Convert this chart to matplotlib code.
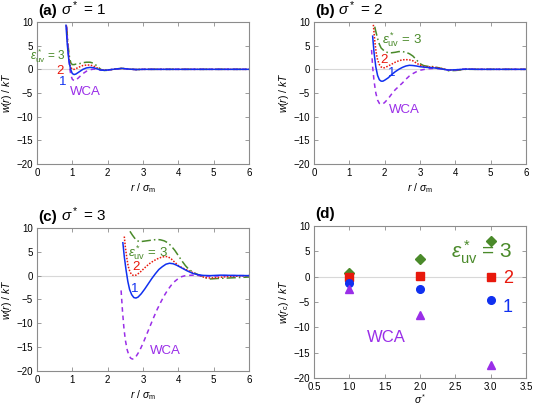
import matplotlib
matplotlib.use("Agg")
import matplotlib.pyplot as plt

plt.rcParams['font.family'] = ['Liberation Sans', 'DejaVu Sans']
plt.rcParams['mathtext.fontset'] = 'custom'
plt.rcParams['mathtext.rm'] = 'Liberation Sans'
plt.rcParams['mathtext.it'] = 'Liberation Sans:italic'
plt.rcParams['mathtext.bf'] = 'Liberation Sans:bold'
plt.rcParams['axes.unicode_minus'] = True

GREEN = '#4a8a2a'
RED = '#e8180c'
BLUE = '#1030f0'
PURPLE = '#9a2ee8'

# ---- panel (a): sigma* = 1 ----
a_wca_r = [0.84, 0.88, 0.92, 0.96, 1.0, 1.05, 1.1, 1.2, 1.3, 1.4, 1.5, 1.6, 1.7, 1.8, 1.9, 2.0, 2.2, 2.4, 2.6, 2.8, 3.0, 6.0]
a_wca_w = [9.0, 4.0, 0.5, -1.3, -2.1, -2.4, -2.3, -1.6, -0.9, -0.4, -0.1, 0.05, 0.0, -0.15, -0.2, -0.15, 0.05, 0.15, 0.05, -0.05, 0.0, 0.0]
a_e1_r = [0.82, 0.86, 0.9, 0.95, 1.0, 1.05, 1.1, 1.2, 1.3, 1.4, 1.5, 1.6, 1.7, 1.8, 1.9, 2.0, 2.2, 2.4, 2.6, 2.8, 3.0, 6.0]
a_e1_w = [9.3, 5.0, 2.0, 0.0, -0.9, -1.1, -1.0, -0.5, 0.0, 0.3, 0.4, 0.35, 0.1, -0.15, -0.2, -0.15, 0.05, 0.2, 0.05, -0.05, 0.0, 0.0]
a_e2_r = [0.83, 0.87, 0.91, 0.95, 1.0, 1.05, 1.1, 1.2, 1.3, 1.4, 1.5, 1.6, 1.7, 1.8, 1.9, 2.0, 2.2, 2.4, 2.6, 2.8, 3.0, 6.0]
a_e2_w = [9.3, 5.0, 2.0, 0.5, 0.0, 0.0, 0.15, 0.5, 0.8, 0.9, 0.9, 0.7, 0.3, -0.1, -0.2, -0.15, 0.05, 0.2, 0.05, -0.05, 0.0, 0.0]
a_e3_r = [0.84, 0.88, 0.92, 0.96, 1.0, 1.05, 1.1, 1.2, 1.3, 1.4, 1.5, 1.6, 1.7, 1.8, 1.9, 2.0, 2.2, 2.4, 2.6, 2.8, 3.0, 6.0]
a_e3_w = [9.0, 5.0, 2.5, 1.3, 1.0, 1.0, 1.1, 1.2, 1.4, 1.5, 1.5, 1.3, 0.7, 0.0, -0.25, -0.2, 0.05, 0.2, 0.1, -0.05, 0.0, 0.0]

# ---- panel (b): sigma* = 2 ----
b_wca_r = [1.63, 1.66, 1.7, 1.75, 1.8, 1.85, 1.9, 1.95, 2.0, 2.1, 2.2, 2.3, 2.4, 2.5, 2.6, 2.7, 2.8, 2.9, 3.0, 3.2, 3.4, 3.6, 3.8, 4.0, 4.3, 4.6, 6.0]
b_wca_w = [4.1, 0.5, -2.5, -5.0, -6.5, -7.2, -7.4, -7.3, -7.0, -6.2, -5.2, -4.3, -3.6, -2.9, -2.1, -1.4, -0.9, -0.5, -0.2, 0.1, 0.2, 0.1, -0.15, -0.1, 0.05, 0.0, 0.0]
b_e1_r = [1.66, 1.7, 1.75, 1.8, 1.85, 1.9, 1.95, 2.0, 2.1, 2.2, 2.3, 2.4, 2.5, 2.6, 2.7, 2.8, 2.9, 3.0, 3.2, 3.4, 3.6, 3.8, 4.0, 4.3, 4.6, 6.0]
b_e1_w = [7.0, 3.5, 0.5, -1.3, -2.2, -2.5, -2.5, -2.3, -1.8, -1.1, -0.5, 0.0, 0.4, 0.7, 0.85, 0.8, 0.7, 0.55, 0.4, 0.3, 0.1, -0.15, -0.1, 0.05, 0.0, 0.0]
b_e2_r = [1.68, 1.72, 1.76, 1.8, 1.85, 1.9, 1.95, 2.0, 2.1, 2.2, 2.3, 2.4, 2.5, 2.6, 2.7, 2.8, 2.9, 3.0, 3.1, 3.2, 3.4, 3.6, 3.8, 4.0, 4.3, 4.6, 6.0]
b_e2_w = [9.4, 6.0, 3.5, 2.0, 1.0, 0.5, 0.3, 0.35, 0.7, 1.1, 1.5, 1.8, 2.0, 2.05, 2.0, 1.8, 1.3, 0.9, 0.6, 0.55, 0.45, 0.2, -0.15, -0.15, 0.05, 0.0, 0.0]
b_e3_r = [1.72, 1.74, 1.8, 1.85, 1.9, 2.0, 2.1, 2.2, 2.3, 2.4, 2.5, 2.6, 2.7, 2.8, 2.9, 3.0, 3.1, 3.2, 3.4, 3.6, 3.8, 4.0, 4.3, 4.6, 5.0, 6.0]
b_e3_w = [9.0, 8.3, 6.5, 5.3, 4.5, 3.8, 3.5, 3.5, 3.6, 3.75, 3.75, 3.6, 3.3, 2.8, 2.0, 1.2, 0.8, 0.65, 0.55, 0.2, -0.3, -0.25, 0.0, 0.0, 0.0, 0.0]

# ---- panel (c): sigma* = 3 ----
c_wca_r = [2.38, 2.42, 2.46, 2.5, 2.55, 2.6, 2.65, 2.7, 2.75, 2.8, 2.9, 3.0, 3.1, 3.2, 3.3, 3.4, 3.5, 3.6, 3.7, 3.8, 3.9, 4.0, 4.1, 4.2, 4.4, 4.6, 4.8, 5.0, 5.3, 6.0]
c_wca_w = [-3.1, -7.5, -11.0, -13.5, -15.5, -16.7, -17.3, -17.5, -17.4, -17.0, -15.8, -14.2, -12.4, -10.6, -8.8, -7.1, -5.6, -4.2, -3.0, -2.0, -1.2, -0.6, -0.2, 0.0, 0.1, 0.0, -0.1, -0.1, 0.0, 0.0]
c_e1_r = [2.43, 2.47, 2.52, 2.57, 2.62, 2.68, 2.74, 2.8, 2.86, 2.95, 3.05, 3.15, 3.25, 3.35, 3.45, 3.55, 3.65, 3.75, 3.85, 3.95, 4.1, 4.25, 4.4, 4.55, 4.7, 4.9, 5.2, 5.5, 6.0]
c_e1_w = [6.9, 4.0, 1.2, -1.2, -2.9, -4.0, -4.6, -4.7, -4.5, -3.8, -2.8, -1.7, -0.6, 0.4, 1.3, 1.9, 2.4, 2.6, 2.5, 2.2, 1.6, 1.0, 0.5, 0.2, 0.05, 0.0, 0.1, 0.05, 0.0]
c_e2_r = [2.47, 2.5, 2.54, 2.58, 2.63, 2.68, 2.74, 2.8, 2.9, 3.0, 3.1, 3.2, 3.3, 3.4, 3.5, 3.6, 3.7, 3.8, 3.9, 4.0, 4.15, 4.3, 4.45, 4.6, 4.75, 4.9, 5.1, 5.4, 6.0]
c_e2_w = [8.2, 6.0, 3.8, 2.0, 0.8, 0.2, 0.0, 0.1, 0.6, 1.3, 2.0, 2.6, 3.1, 3.5, 3.8, 4.0, 4.0, 3.5, 2.8, 2.1, 1.5, 1.0, 0.5, 0.0, -0.4, -0.5, -0.4, -0.2, 0.0]
c_e3_r = [2.63, 2.7, 2.8, 2.9, 3.0, 3.1, 3.2, 3.3, 3.4, 3.5, 3.6, 3.7, 3.8, 3.9, 4.0, 4.1, 4.2, 4.3, 4.4, 4.5, 4.6, 4.75, 4.9, 5.1, 5.4, 5.7, 6.0]
c_e3_w = [9.3, 8.5, 7.5, 7.1, 7.2, 7.3, 7.4, 7.5, 7.6, 7.5, 7.3, 6.9, 6.2, 5.3, 4.2, 3.1, 2.1, 1.3, 0.8, 0.4, 0.1, -0.4, -0.7, -0.6, -0.5, -0.4, -0.3]

# ---- panel (d): contact values ----
sigma_star = [1.0, 2.0, 3.0]
wc_e3 = [0.8, 3.4, 7.0]
wc_e2 = [-0.1, 0.2, 0.0]
wc_e1 = [-1.2, -2.5, -4.7]
wc_wca = [-2.5, -7.5, -17.5]

fig = plt.figure(figsize=(5.34, 4.07), dpi=100)
ax_a = fig.add_axes([0.0693, 0.597, 0.397, 0.349])
ax_b = fig.add_axes([0.588, 0.597, 0.397, 0.349])
ax_c = fig.add_axes([0.0693, 0.0885, 0.397, 0.3514])
ax_d = fig.add_axes([0.588, 0.0713, 0.397, 0.3735])


def style(ax):
    for s in ax.spines.values():
        s.set_color('#8c8c8c')
        s.set_linewidth(0.8)
    ax.tick_params(direction='in', top=True, right=True, length=3, width=0.6,
                   color='#8c8c8c', labelsize=7, pad=3)
    ax.axhline(0, color='#d8d8d8', lw=0.8, zorder=0)
    ax.set_ylim(-20, 10)
    ax.set_yticks([-20, -15, -10, -5, 0, 5, 10])


curves = [
    (ax_a, a_wca_r, a_wca_w, a_e1_r, a_e1_w, a_e2_r, a_e2_w, a_e3_r, a_e3_w),
    (ax_b, b_wca_r, b_wca_w, b_e1_r, b_e1_w, b_e2_r, b_e2_w, b_e3_r, b_e3_w),
    (ax_c, c_wca_r, c_wca_w, c_e1_r, c_e1_w, c_e2_r, c_e2_w, c_e3_r, c_e3_w),
]
for ax, wr, ww, r1, w1, r2, w2, r3, w3 in curves:
    style(ax)
    ax.plot(r3, w3, color=GREEN, lw=1.1, ls=(0, (6, 2, 1, 2)))
    ax.plot(r2, w2, color=RED, lw=1.1, ls=(0, (1, 1)))
    ax.plot(wr, ww, color=PURPLE, lw=1.1, ls=(0, (3, 2.5)))
    ax.plot(r1, w1, color=BLUE, lw=1.1)
    ax.set_xlim(0, 6)
    ax.set_xticks([0, 1, 2, 3, 4, 5, 6])
    ax.set_xlabel(r'$r\ /\ \sigma_{\rm m}$', fontsize=7.5, labelpad=2)
    ax.set_ylabel(r'$w(r)\ /\ kT$', fontsize=7.5, labelpad=2)

eps = r'$\epsilon^*_{\rm uv}$ = 3'
fs = 9.5
# (a) labels
ax_a.text(-0.2, 2.9, eps, color=GREEN, fontsize=8.5, va='center', clip_on=False)
ax_a.text(0.55, -0.3, '2', color=RED, fontsize=fs, va='center')
ax_a.text(0.63, -2.6, '1', color=BLUE, fontsize=fs, va='center')
ax_a.text(0.93, -4.7, 'WCA', color=PURPLE, fontsize=fs, va='center')
# (b) labels
ax_b.text(1.92, 6.3, eps, color=GREEN, fontsize=fs, va='center')
ax_b.text(1.88, 2.0, '2', color=RED, fontsize=fs, va='center')
ax_b.text(2.1, -0.8, '1', color=BLUE, fontsize=fs, va='center')
ax_b.text(2.11, -8.6, 'WCA', color=PURPLE, fontsize=fs, va='center')
# (c) labels
ax_c.text(2.58, 4.9, eps, color=GREEN, fontsize=fs, va='center')
ax_c.text(2.7, 1.9, '2', color=RED, fontsize=fs, va='center')
ax_c.text(2.66, -2.85, '1', color=BLUE, fontsize=fs, va='center')
ax_c.text(3.2, -15.9, 'WCA', color=PURPLE, fontsize=fs, va='center')

# (d) contact values
style(ax_d)
ax_d.plot(sigma_star, wc_e3, 'D', color=GREEN, ms=5.5, ls='none')
ax_d.plot(sigma_star, wc_e2, 's', color=RED, ms=5.5, ls='none')
ax_d.plot(sigma_star, wc_e1, 'o', color=BLUE, ms=5.5, ls='none')
ax_d.plot(sigma_star, wc_wca, '^', color=PURPLE, ms=6, ls='none')
ax_d.set_xlim(0.5, 3.5)
ax_d.set_xticks([0.5, 1.0, 1.5, 2.0, 2.5, 3.0, 3.5])
ax_d.set_xticklabels(['0.5', '1.0', '1.5', '2.0', '2.5', '3.0', '3.5'])
ax_d.set_xlabel(r'$\sigma^*$', fontsize=7.5, labelpad=0)
ax_d.set_ylabel(r'$w(r_{\rm c})\ /\ kT$', fontsize=7.5, labelpad=2)
ax_d.text(2.44, 4.9, r'$\epsilon^*_{\rm uv}$ = 3', color=GREEN, fontsize=15, va='center')
ax_d.text(3.17, -0.3, '2', color=RED, fontsize=13, va='center')
ax_d.text(3.17, -6.0, '1', color=BLUE, fontsize=13, va='center')
ax_d.text(1.25, -12.0, 'WCA', color=PURPLE, fontsize=12, va='center')

# panel titles
for ax, tag, rest in [(ax_a, '(a)', r'$\sigma^*$ = 1'), (ax_b, '(b)', r'$\sigma^*$ = 2'),
                      (ax_c, '(c)', r'$\sigma^*$ = 3'), (ax_d, '(d)', '')]:
    ax.text(0.005, 1.03, tag, transform=ax.transAxes, fontsize=11,
            fontweight='bold', va='bottom', ha='left')
    if rest:
        ax.text(0.115, 1.03, rest, transform=ax.transAxes, fontsize=11,
                va='bottom', ha='left')

fig.savefig('out.png', dpi=100)
